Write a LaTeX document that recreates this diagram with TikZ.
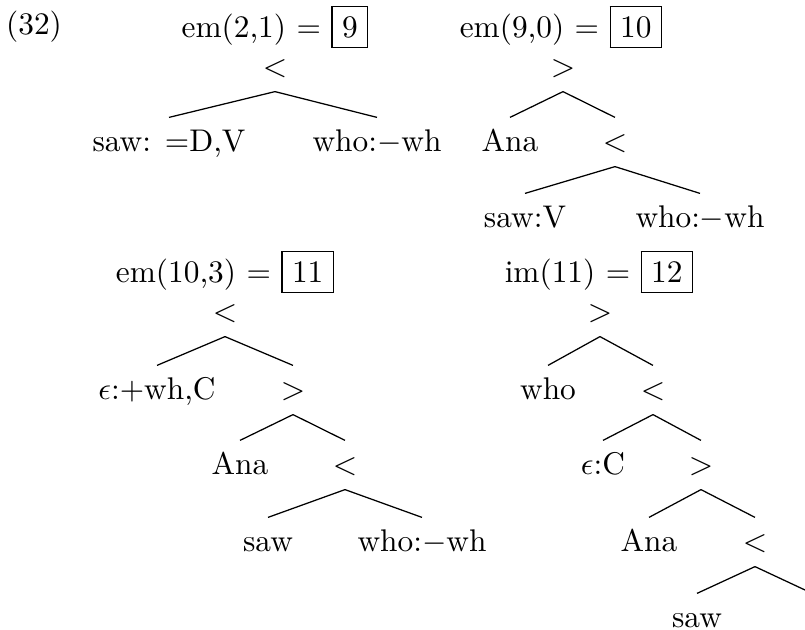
\documentclass[tikz,border=0pt]{standalone}
\usepackage{tikz}

\begin{document}
\begin{tikzpicture}[x=0.319pt, y=-0.319pt, tn/.style={inner sep=0pt, text height=7.4pt, text depth=1.6pt, minimum height=15.3pt}, hd/.style={inner sep=0pt, anchor=center}]
		\useasboundingbox (0,0) rectangle (805,630);
		\node[hd] (ex) at (34,27) {(32)};
		\node[hd] (t9) at (275,27) {em(2,1) $=$ \fbox{9}};
		\node[tn] (t9_r) at (275,67) {$<$};
		\node[tn] (t9_r_saw) at (169,142) {saw: $=$D,V};
		\node[tn] (t9_r_who) at (377,142) {who:$-$wh};
		\draw (t9_r.south) -- (t9_r_saw.north);
		\draw (t9_r.south) -- (t9_r_who.north);
		\node[hd] (t10) at (561,27) {em(9,0) $=$ \fbox{10}};
		\node[tn] (t10_r) at (563,67) {$>$};
		\node[tn] (t10_r_ana) at (510,142) {Ana};
		\node[tn] (t10_r_lt) at (615,142) {$<$};
		\node[tn] (t10_r_lt_saw) at (525,218) {saw:V};
		\node[tn] (t10_r_lt_who) at (700,218) {who:$-$wh};
		\draw (t10_r.south) -- (t10_r_ana.north);
		\draw (t10_r.south) -- (t10_r_lt.north);
		\draw (t10_r_lt.south) -- (t10_r_lt_saw.north);
		\draw (t10_r_lt.south) -- (t10_r_lt_who.north);
		\node[hd] (t11) at (225,272) {em(10,3) $=$ \fbox{11}};
		\node[tn] (t11_r) at (225,312) {$<$};
		\node[tn] (t11_r_eps) at (157,390) {$\epsilon$:$+$wh,C};
		\node[tn] (t11_r_gt) at (293,390) {$>$};
		\node[tn] (t11_r_gt_ana) at (240,465) {Ana};
		\node[tn] (t11_r_gt_lt) at (345,465) {$<$};
		\node[tn] (t11_r_gt_lt_saw) at (268,542) {saw};
		\node[tn] (t11_r_gt_lt_who) at (422,542) {who:$-$wh};
		\draw (t11_r.south) -- (t11_r_eps.north);
		\draw (t11_r.south) -- (t11_r_gt.north);
		\draw (t11_r_gt.south) -- (t11_r_gt_ana.north);
		\draw (t11_r_gt.south) -- (t11_r_gt_lt.north);
		\draw (t11_r_gt_lt.south) -- (t11_r_gt_lt_saw.north);
		\draw (t11_r_gt_lt.south) -- (t11_r_gt_lt_who.north);
		\node[hd] (t12) at (599,272) {im(11) $=$ \fbox{12}};
		\node[tn] (t12_r) at (600,312) {$>$};
		\node[tn] (t12_r_who) at (548,390) {who};
		\node[tn] (t12_r_lt) at (653,390) {$<$};
		\node[tn] (t12_r_lt_eps) at (603,465) {$\epsilon$:C};
		\node[tn] (t12_r_lt_gt) at (701,465) {$>$};
		\node[tn] (t12_r_lt_gt_ana) at (649,542) {Ana};
		\node[tn] (t12_r_lt_gt_lt) at (755,542) {$<$};
		\node[tn] (t12_r_lt_gt_lt_saw) at (697,618) {saw};
		\coordinate (t12_r_lt_gt_lt_cut) at (805,590);
		\draw (t12_r.south) -- (t12_r_who.north);
		\draw (t12_r.south) -- (t12_r_lt.north);
		\draw (t12_r_lt.south) -- (t12_r_lt_eps.north);
		\draw (t12_r_lt.south) -- (t12_r_lt_gt.north);
		\draw (t12_r_lt_gt.south) -- (t12_r_lt_gt_ana.north);
		\draw (t12_r_lt_gt.south) -- (t12_r_lt_gt_lt.north);
		\draw (t12_r_lt_gt_lt.south) -- (t12_r_lt_gt_lt_saw.north);
		\draw (t12_r_lt_gt_lt.south) -- (t12_r_lt_gt_lt_cut);
	\end{tikzpicture}
\end{document}
